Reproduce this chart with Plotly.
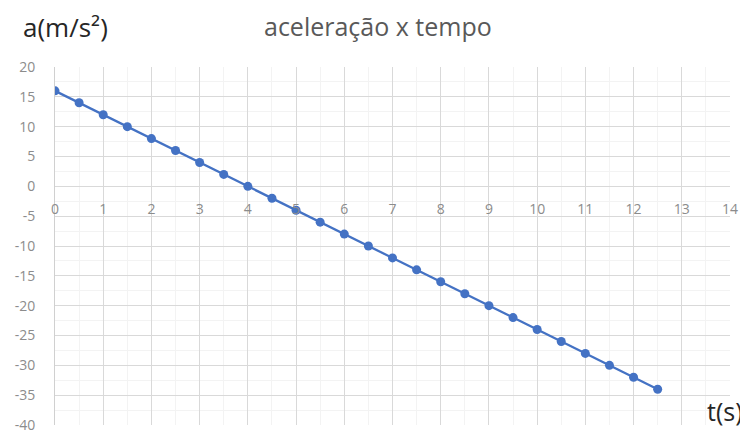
import plotly.graph_objects as go

t_values = [0, 0.5, 1, 1.5, 2, 2.5, 3, 3.5, 4, 4.5, 5, 5.5, 6, 6.5, 7, 7.5,
            8, 8.5, 9, 9.5, 10, 10.5, 11, 11.5, 12, 12.5]
a_values = [16, 14, 12, 10, 8, 6, 4, 2, 0, -2, -4, -6, -8, -10, -12, -14,
            -16, -18, -20, -22, -24, -26, -28, -30, -32, -34]
x_ticks = list(range(0, 15))
y_ticks = list(range(-40, 21, 5))

title_text = "aceleração x tempo"
y_label = "a(m/s²)"
x_label = "t(s)"

FONT = "Open Sans"
GRAY = "#595959"
OFF = 8  # default page body margin
W, H = 748 - OFF, 435 - OFF
L, R, T, B = 55 - OFF, 18, 67 - OFF, 10
pw = W - L - R
ph = H - T - B


def px_x(x):
    return (x - OFF - L) / pw


def px_y(y):
    return (H - (y - OFF) - B) / ph


fig = go.Figure()
fig.add_trace(go.Scatter(
    x=t_values, y=a_values, mode="lines+markers",
    line=dict(color="#4472C4", width=2.25),
    marker=dict(color="#4472C4", size=9),
    showlegend=False,
))

fig.update_layout(
    width=W, height=H,
    margin=dict(l=L, r=R, t=T, b=B, autoexpand=False),
    paper_bgcolor="white", plot_bgcolor="white",
    font=dict(family=FONT, color=GRAY, size=12),
    xaxis=dict(
        range=[0, 14], tickvals=x_ticks, ticktext=[str(v) for v in x_ticks],
        showgrid=True, gridcolor="#d9d9d9", gridwidth=1,
        minor=dict(dtick=0.5, showgrid=True, gridcolor="#f3f3f3"),
        zeroline=False, showline=False, automargin=False,
        anchor="free", position=40 / 60,
        ticks="", ticklabelstandoff=13,
        tickfont=dict(family=FONT, color="#8c8c8c", size=14),
    ),
    yaxis=dict(
        range=[-40, 20], tickvals=y_ticks,
        ticktext=[str(v) for v in y_ticks],
        showgrid=True, gridcolor="#d9d9d9", gridwidth=1,
        minor=dict(dtick=2.5, showgrid=True, gridcolor="#f3f3f3"),
        zeroline=False, showline=True, linecolor="#d0d0d0", automargin=False,
        ticks="", ticklabelstandoff=16,
        tickfont=dict(family=FONT, color="#8c8c8c", size=14),
    ),
    annotations=[
        dict(text=title_text, x=px_x(378), y=px_y(26), xref="paper", yref="paper",
             showarrow=False, font=dict(family=FONT, size=25, color=GRAY),
             xanchor="center", yanchor="middle"),
        dict(text=y_label, x=px_x(65), y=px_y(27), xref="paper", yref="paper",
             showarrow=False, font=dict(family=FONT, size=26, color="#262626"),
             xanchor="center", yanchor="middle"),
        dict(text=x_label, x=px_x(725), y=px_y(411), xref="paper", yref="paper",
             showarrow=False, font=dict(family=FONT, size=25, color="#262626"),
             xanchor="center", yanchor="middle"),
    ],
)

fig.write_html("out.html")
